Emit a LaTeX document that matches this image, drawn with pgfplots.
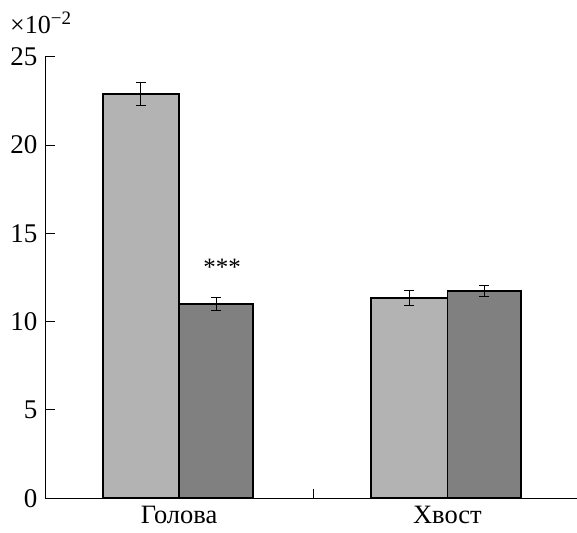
\documentclass[border=0pt]{standalone}
\usepackage{fontspec}
\setmainfont{Liberation Serif}
\usepackage{pgfplots}
\pgfplotsset{compat=1.18}
\definecolor{barlight}{HTML}{B3B3B3}
\definecolor{bardark}{HTML}{808080}
\begin{document}
\fontsize{25}{30}\selectfont
\begin{tikzpicture}
\path[use as bounding box] (-45pt,-33.7pt) rectangle (532pt,498.3pt);
\begin{axis}[
  scale only axis, width=532pt, height=441.6pt,
  xmin=-0.5, xmax=1.483, ymin=0, ymax=25,
  axis x line=bottom, axis y line=left,
  axis line style={-, line width=1pt},
  tick align=inside,
  major tick length=9.5pt,
  tick style={line width=1pt, black},
  ytick={0,5,10,15,20,25},
  xtick={0,0.5,1},
  xticklabels={Голова,{},Хвост},
  yticklabel style={font=\fontsize{27}{32}\selectfont, xshift=1pt},
  xticklabel style={font=\fontsize{26.5}{31}\selectfont, yshift=1pt},
  /pgf/number format/assume math mode=true,
  clip=false,
]
\addplot[ybar, bar width=0.285, bar shift=0pt, fill=barlight, draw=black, line width=1.8pt,
  error bars/.cd, y dir=both, y explicit,
  error bar style={line width=1pt, black},
  error mark options={rotate=90, mark size=5pt, line width=1pt, black}]
  coordinates {(-0.1425,22.88) +- (0,0.66) (0.8575,11.34) +- (0,0.41)};
\addplot[ybar, bar width=0.275, bar shift=0pt, fill=bardark, draw=black, line width=1.8pt,
  error bars/.cd, y dir=both, y explicit,
  error bar style={line width=1pt, black},
  error mark options={rotate=90, mark size=5pt, line width=1pt, black}]
  coordinates {(0.1375,11.0) +- (0,0.36) (1.1375,11.73) +- (0,0.33)};
\node[anchor=base, font=\fontsize{25}{30}\selectfont] at (axis cs:0.16,12.6) {***};
\end{axis}
\node[anchor=base west, inner sep=0pt, font=\fontsize{26}{30}\selectfont] at (-35pt,465pt) {×10\raisebox{8.5pt}{\fontsize{19}{22}\selectfont −2}};
\end{tikzpicture}
\end{document}
